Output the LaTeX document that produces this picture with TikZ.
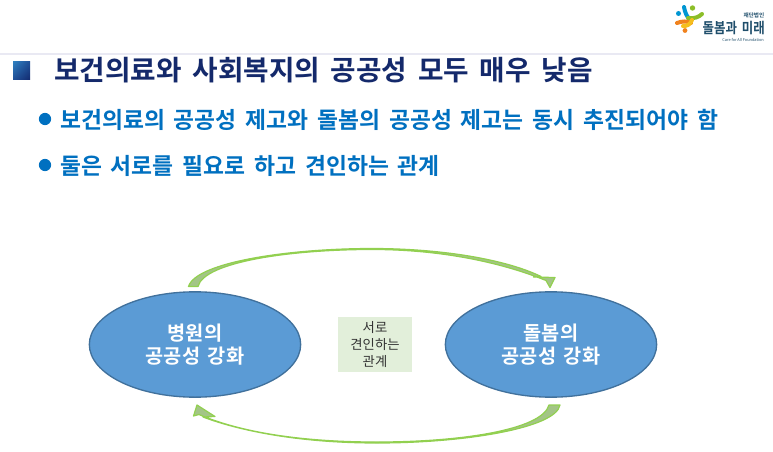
\documentclass[tikz,border=0pt]{standalone}
\usepackage{fontspec}
\setmainfont{Noto Sans CJK KR}
\newfontfamily\krb{Noto Sans CJK KR Bold}
\newfontfamily\krw[WordSpace=1.7]{Noto Sans CJK KR Bold}
\usetikzlibrary{calc,shapes.geometric,shadings}
\definecolor{navy}{HTML}{14296B}
\definecolor{bluetxt}{HTML}{0070C0}
\definecolor{ellfill}{HTML}{5B9BD5}
\definecolor{elledge}{HTML}{41719C}
\definecolor{arrowedge}{HTML}{92D050}
\definecolor{arrowfill}{HTML}{A3C586}
\definecolor{boxfill}{HTML}{E2EFDA}
\definecolor{logotxt}{HTML}{1F4E6B}
\definecolor{logoblue}{HTML}{0096D2}
\definecolor{logogreen}{HTML}{8CBE28}
\definecolor{logoorange}{HTML}{F0821E}
\definecolor{logoyellow}{HTML}{F5BE1E}
\definecolor{sqlight}{HTML}{2F7FBF}
\definecolor{sqmid}{HTML}{1F4E96}
\definecolor{sqdark}{HTML}{12296E}
\definecolor{headline}{HTML}{E9E9F3}
\tikzset{
  title/.style={anchor=west,inner sep=0pt,text=navy,font=\krw\fontsize{20.8}{24}\selectfont},
  sub/.style={anchor=west,inner sep=0pt,text=bluetxt,font=\krw\fontsize{17.1}{20}\selectfont},
  dotb/.style={circle,fill=bluetxt,inner sep=0pt,minimum size=9.2pt},
  oval/.style={ellipse,draw=elledge,line width=1pt,fill=ellfill,minimum width=158.5pt,minimum height=79pt,inner sep=0pt,align=center,text=white,font=\krw\fontsize{14.8}{17.5}\selectfont},
  mid/.style={fill=boxfill,minimum width=55.5pt,minimum height=41.5pt,inner sep=0pt,align=center,text=black!80,font=\fontsize{10}{12.4}\selectfont},
  blockarrow/.style={draw=arrowedge,line width=.9pt,fill=arrowfill,line join=round},
  logoarm/.style={line width=3pt,line cap=round}
}
\begin{document}
\begin{tikzpicture}[x=0.75pt,y=-0.75pt]
\useasboundingbox (0,0) rectangle (773,452);
\fill[white] (0,0) rectangle (773,452);
\fill[headline] (0,53.5) rectangle (773,55);
% title block
\shade[upper left=sqlight,upper right=sqmid,lower left=sqmid,lower right=sqdark] (13,62) rectangle (30,80);
\node[title] (t) at (54,70.5) {보건의료와 사회복지의 공공성 모두 매우 낮음};
\node[dotb] (d1) at (45,119) {};
\node[sub] (s1) at (60,120) {보건의료의 공공성 제고와 돌봄의 공공성 제고는 동시 추진되어야 함};
\node[dotb] (d2) at (45,165) {};
\node[sub] (s2) at (60,166) {둘은 서로를 필요로 하고 견인하는 관계};
% ovals
\node[oval] (left) at (195,344.5) {병원의\\공공성 강화};
\node[oval] (right) at (551,344.5) {돌봄의\\공공성 강화};
\node[mid] (box) at (375,344.5) {서로\\견인하는\\관계};
% top arrow
\draw[blockarrow] (188.5,286.5) .. controls (196,262) and (290,248.5) .. (372,248.5)
  .. controls (440,248.5) and (505,259) .. (541,276.5)
  -- (533.5,277) -- (555,277.5) -- (550,287.5) -- (546,280.5)
  .. controls (500,262) and (440,249.5) .. (372,249.5)
  .. controls (290,249.5) and (204,262) .. (198,286.5) -- cycle;
% bottom arrow
\draw[blockarrow] (560,405) .. controls (556,428) and (465,443) .. (377,443)
  .. controls (300,443) and (240,431) .. (203,417)
  -- (215,416.5) -- (197,405) -- (193.5,416) -- (199,414.5)
  .. controls (240,432) and (300,442) .. (377,442)
  .. controls (460,442) and (542,430) .. (549,405) -- cycle;
% logo
\draw[logoarm,draw=logoblue] (684,7) .. controls (685,13) and (687,17) .. (691,21);
\fill[logoblue] (678.5,13.5) circle (2.5);
\fill[logogreen] (692.5,8) circle (2.7);
\draw[logoarm,draw=logogreen] (688,18) .. controls (694,19) and (699,17) .. (702,14);
\draw[logoarm,draw=logoorange] (677,23) .. controls (682,21) and (687,21) .. (691,23);
\draw[logoarm,draw=logoyellow] (692,20) .. controls (690,25) and (687,26) .. (683,26);
\fill[logoorange] (685,30.5) circle (2.4);
\node[inner sep=0pt,anchor=east,text=logotxt,font=\krb\fontsize{4.2}{5}\selectfont] (l1) at (764.5,15.5) {재단법인};
\node[inner sep=0pt,anchor=east,text=logotxt,xscale=.85,font=\krb\fontsize{11}{12}\selectfont] (l2) at (765,28.5) {돌봄과 미래};
\node[inner sep=0pt,anchor=east,text=logotxt,font=\fontsize{2.9}{3}\selectfont] (l3) at (764,39.5) {Care for All Foundation};
\end{tikzpicture}
\end{document}
